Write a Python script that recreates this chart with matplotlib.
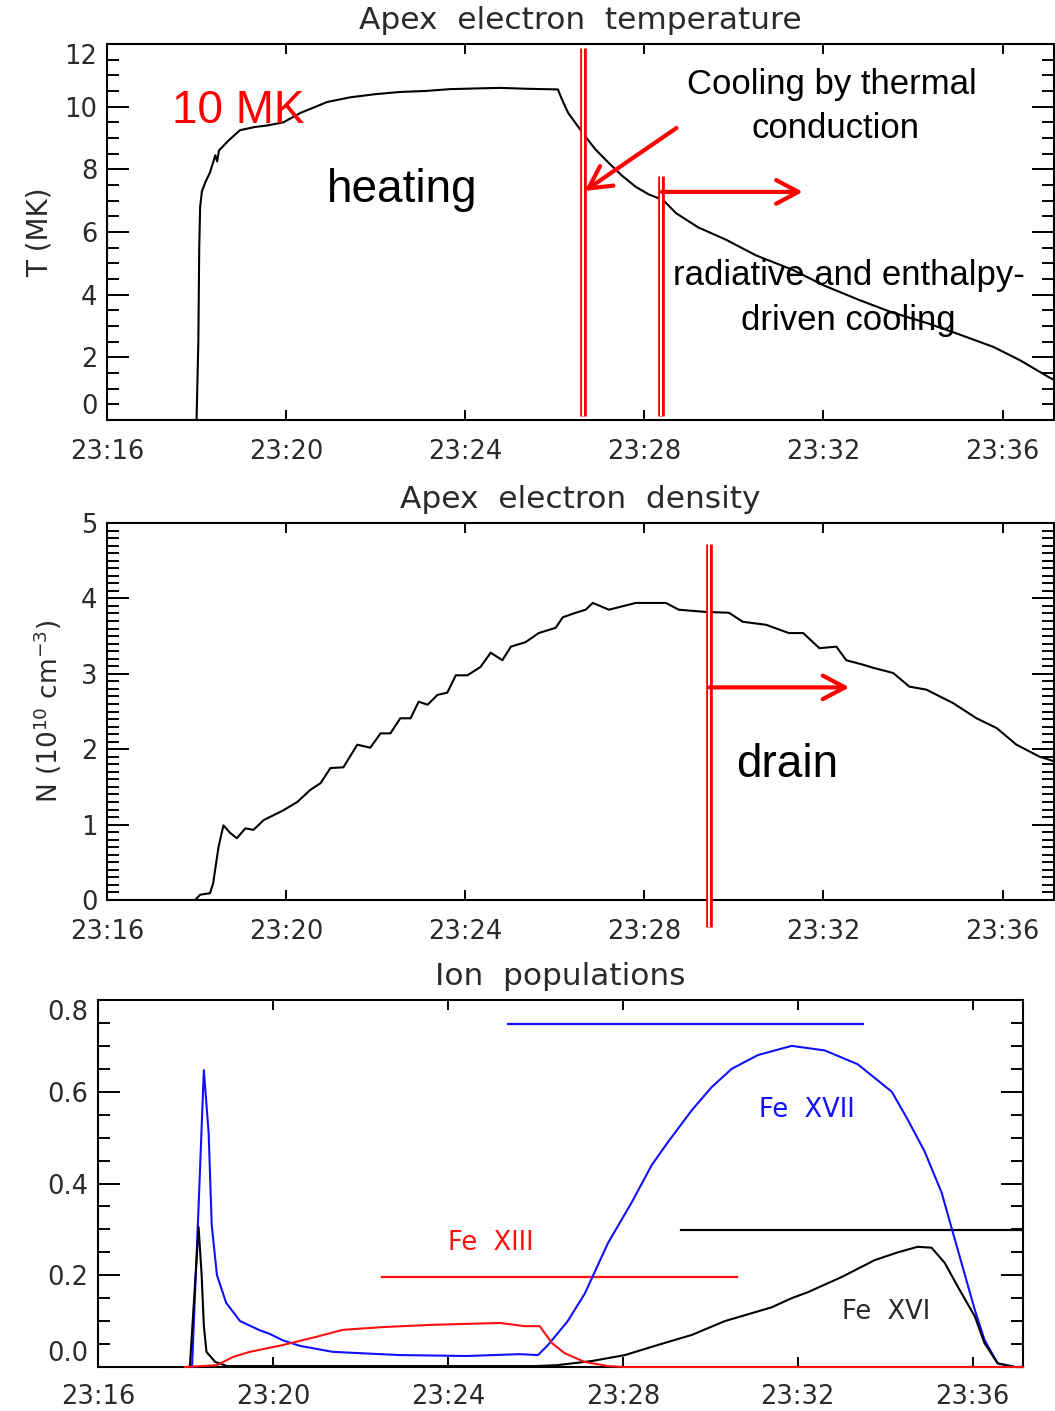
import numpy as np
import matplotlib
matplotlib.use('Agg')
import matplotlib.pyplot as plt
from matplotlib.ticker import MultipleLocator, FormatStrFormatter

# time axis: minutes after 23:16
time_ticks = [0, 4, 8, 12, 16, 20]
time_labels = ['23:16', '23:20', '23:24', '23:28', '23:32', '23:36']
t_max = 21.15

# Apex electron temperature (MK)
temp_t = [0, 2.00, 2.04, 2.06, 2.08, 2.12, 2.2, 2.3, 2.42, 2.46, 2.5, 2.7, 2.97,
          3.3, 3.58, 3.94, 4.32, 4.92, 5.44, 6.0, 6.55, 7.1, 7.67, 8.2, 8.79,
          9.4, 10.07, 10.17, 10.3, 10.63, 10.9, 11.21, 11.5, 11.81, 12.1, 12.42,
          12.71, 13.2, 13.83, 14.5, 15.32, 16.0, 16.80, 17.5, 18.30, 19.0, 19.80,
          20.4, 21.03, 21.15]
temp_v = [0, 0, 2.5, 5.5, 6.8, 7.3, 7.6, 7.9, 8.45, 8.25, 8.6, 8.9, 9.25,
          9.35, 9.4, 9.5, 9.8, 10.15, 10.3, 10.4, 10.47, 10.5, 10.56, 10.58, 10.6,
          10.57, 10.55, 10.2, 9.8, 9.15, 8.65, 8.2, 7.8, 7.44, 7.2, 7.02,
          6.6, 6.15, 5.75, 5.25, 4.79, 4.3, 3.83, 3.45, 3.1, 2.75, 2.33,
          1.9, 1.37, 1.28]

# Apex electron density (1e10 cm^-3)
dens_t = [0, 1.97, 2.08, 2.30, 2.37, 2.49, 2.60, 2.75, 2.9, 3.09, 3.27, 3.5,
          3.94, 4.25, 4.54, 4.77, 4.99, 5.28, 5.59, 5.88, 6.11, 6.33, 6.55, 6.78,
          6.96, 7.16, 7.38, 7.6, 7.79, 8.05, 8.34, 8.57, 8.83, 9.02, 9.35, 9.64,
          10.02, 10.18, 10.47, 10.69, 10.85, 11.21, 11.81, 12.48, 12.77, 13.38,
          13.89, 14.2, 14.72, 15.23, 15.55, 15.91, 16.29, 16.51, 16.89, 17.11,
          17.56, 17.92, 18.30, 18.9, 19.42, 19.87, 20.31, 20.83, 21.15]
dens_v = [0, 0, 0.07, 0.09, 0.22, 0.70, 0.99, 0.89, 0.82, 0.95, 0.93, 1.06,
          1.19, 1.30, 1.46, 1.55, 1.75, 1.76, 2.06, 2.02, 2.21, 2.21, 2.41, 2.41,
          2.63, 2.59, 2.72, 2.75, 2.98, 2.98, 3.09, 3.28, 3.18, 3.36, 3.42, 3.54,
          3.61, 3.75, 3.81, 3.85, 3.94, 3.85, 3.94, 3.94, 3.85, 3.82,
          3.81, 3.69, 3.65, 3.54, 3.54, 3.34, 3.36, 3.18, 3.12, 3.08,
          3.01, 2.83, 2.79, 2.61, 2.41, 2.28, 2.06, 1.90, 1.84]

# Ion populations (curves start where the simulation output begins)
fe17_t = [2.15, 2.30, 2.42, 2.53, 2.60, 2.72, 2.93, 3.25, 3.70, 3.93, 4.23,
          4.62, 5.37, 6.90, 8.43, 9.65, 10.06, 10.29, 10.74, 11.13, 11.66, 12.21,
          12.66, 13.03, 13.58, 14.03, 14.49, 15.09, 15.86, 16.62, 17.37, 17.76,
          18.15, 18.51, 18.90, 19.29, 19.66, 20.05, 20.27, 20.57, 20.96, 21.15]
fe17_v = [0, 0.35, 0.647, 0.51, 0.31, 0.20, 0.14, 0.10, 0.08, 0.072, 0.058,
          0.046, 0.033, 0.026, 0.024, 0.028, 0.026, 0.048, 0.10, 0.16, 0.27, 0.36,
          0.44, 0.49, 0.56, 0.61, 0.65, 0.68, 0.70, 0.69, 0.66, 0.63,
          0.60, 0.54, 0.47, 0.38, 0.255, 0.124, 0.059, 0.008, 0, 0]

fe16_t = [2.10, 2.30, 2.37, 2.42, 2.48, 2.68, 2.95, 10.0, 10.5, 11.29, 12.05,
          12.8, 13.58, 14.33, 15.4, 15.86, 16.23, 17.0, 17.76, 18.29, 18.74,
          19.06, 19.36, 19.66, 20.05, 20.27, 20.57, 20.96, 21.15]
fe16_v = [0, 0.305, 0.20, 0.09, 0.033, 0.011, 0.002, 0.002, 0.004, 0.013, 0.026,
          0.048, 0.07, 0.10, 0.13, 0.15, 0.163, 0.196, 0.233, 0.25, 0.262,
          0.26, 0.227, 0.175, 0.11, 0.052, 0.008, 0, 0]

fe13_t = [1.99, 2.72, 3.09, 3.47, 4.23, 5.0, 5.6, 6.51, 7.66, 9.19, 9.76,
          10.1, 10.38, 10.67, 11.13, 11.66, 12.0, 21.15]
fe13_v = [0, 0.004, 0.022, 0.033, 0.048, 0.066, 0.081, 0.087, 0.092, 0.096, 0.089,
          0.089, 0.052, 0.030, 0.011, 0.002, 0, 0]

# horizontal bars in the ion panel: (t_start, t_end, level)
fe17_bar = (9.38, 17.49, 0.748)
fe16_bar = (13.34, 21.15, 0.299)
fe13_bar = (6.50, 14.61, 0.197)

TXT = '#2a2a2a'
ANN = 'Liberation Sans'
BLUE = '#1010ff'
RED = '#ff1010'


def setup_axis(ax, ymax, ymajor, yminor, xpad=14):
    ax.set_xlim(0, t_max)
    ax.set_ylim(0, ymax)
    ax.set_xticks(time_ticks)
    ax.set_xticklabels(time_labels)
    ax.yaxis.set_major_locator(MultipleLocator(ymajor))
    ax.yaxis.set_minor_locator(MultipleLocator(yminor))
    ax.tick_params(axis='x', which='major', direction='in', top=True, bottom=True,
                   length=7, width=1.4, pad=xpad, labelsize=18.5, labelcolor=TXT)
    ax.tick_params(axis='y', which='major', direction='in', left=True, right=True,
                   length=16, width=1.4, pad=7, labelsize=18.5, labelcolor=TXT)
    ax.tick_params(axis='y', which='minor', direction='in', left=True, right=True,
                   length=8.5, width=1.4)
    for s in ax.spines.values():
        s.set_linewidth(1.5)


def double_line(ax, t, y0, y1):
    ax.plot([t, t], [y0, y1], color='red', lw=4.8, solid_capstyle='butt', clip_on=False, zorder=5)
    ax.plot([t, t], [y0, y1], color='white', lw=1.4, solid_capstyle='butt', clip_on=False, zorder=6)


def red_arrow(ax, start, end):
    ax.annotate('', xy=end, xytext=start,
                arrowprops=dict(arrowstyle='->,head_length=1.6,head_width=0.85',
                                color='red', lw=3, mutation_scale=10,
                                shrinkA=0, shrinkB=0), zorder=7)


fig = plt.figure(figsize=(10.55, 14.11), dpi=100)

# Temperature
ax1 = fig.add_axes([107 / 1055, 1 - 420 / 1411, 947 / 1055, 376 / 1411])
ax1.plot(temp_t, temp_v, color='black', lw=1.5)
setup_axis(ax1, 12, 2, 0.5)
ax1.set_ylabel('T (MK)', fontsize=20, color=TXT, labelpad=8)
ax1.set_title('Apex  electron  temperature', fontsize=22.5, color=TXT, pad=11)
double_line(ax1, 10.625, 0.13, 11.87)
double_line(ax1, 12.38, 0.13, 7.79)
red_arrow(ax1, (12.72, 9.32), (10.67, 7.31))
red_arrow(ax1, (12.39, 7.28), (15.54, 7.28))
ax1.text(1.45, 9.48, '10 MK', color='red', fontsize=33, family=ANN, va='baseline')
ax1.text(4.91, 6.96, 'heating', color='black', fontsize=33, family=ANN, va='baseline')
ax1.text(16.18, 10.40, 'Cooling by thermal', fontsize=25, family=ANN, ha='center', va='baseline')
ax1.text(16.27, 9.0, 'conduction', fontsize=25, family=ANN, ha='center', va='baseline')
ax1.text(16.57, 4.31, 'radiative and enthalpy-', fontsize=25, family=ANN, ha='center', va='baseline', zorder=8)
ax1.text(16.55, 2.87, 'driven cooling', fontsize=25, family=ANN, ha='center', va='baseline', zorder=8)

# Density
ax2 = fig.add_axes([107 / 1055, 1 - 900 / 1411, 947 / 1055, 377 / 1411])
ax2.plot(dens_t, dens_v, color='black', lw=1.5)
setup_axis(ax2, 5, 1, 0.1)
ax2.set_ylabel(r'N (10$^{10}$ cm$^{-3}$)', fontsize=19, color=TXT, labelpad=12)
ax2.set_title('Apex  electron  density', fontsize=22.5, color=TXT, pad=11)
double_line(ax2, 13.44, -0.36, 4.72)
red_arrow(ax2, (13.46, 2.82), (16.58, 2.82))
ax2.text(14.06, 1.63, 'drain', color='black', fontsize=33, family=ANN, va='baseline')

# Ion populations
ax3 = fig.add_axes([98 / 1055, 1 - 1367 / 1411, 925 / 1055, 367 / 1411])
ax3.plot(fe17_t, fe17_v, color=BLUE, lw=1.5, clip_on=False, zorder=3)
ax3.plot(fe16_t, fe16_v, color='black', lw=1.5, clip_on=False, zorder=3)
ax3.plot(fe13_t, fe13_v, color=RED, lw=1.5, clip_on=False, zorder=3)
for (a, b, lev), c in [(fe17_bar, BLUE), (fe16_bar, 'black'), (fe13_bar, RED)]:
    ax3.plot([a, b], [lev, lev], color=c, lw=1.6)
setup_axis(ax3, 0.8, 0.2, 0.05, xpad=12)
ax3.yaxis.set_major_formatter(FormatStrFormatter('%.1f'))
ax3.set_title('Ion  populations', fontsize=22.5, color=TXT, pad=11)
ax3.text(16.2, 0.56, 'Fe  XVII', color=BLUE, fontsize=18.5, ha='center', va='center')
ax3.text(8.98, 0.27, 'Fe  XIII', color=RED, fontsize=18.5, ha='center', va='center')
ax3.text(18.03, 0.12, 'Fe  XVI', color=TXT, fontsize=18.5, ha='center', va='center')

# IDL-like placement of the end labels on the y axes
fig.canvas.draw()
for ax in (ax1, ax3):
    lo, hi = ax.get_ylim()
    vis = [l for l in ax.get_yticklabels() if lo - 1e-9 <= l.get_position()[1] <= hi + 1e-9]
    vis[0].set_va('bottom')
    vis[-1].set_va('top')

fig.savefig('out.png', dpi=100)
